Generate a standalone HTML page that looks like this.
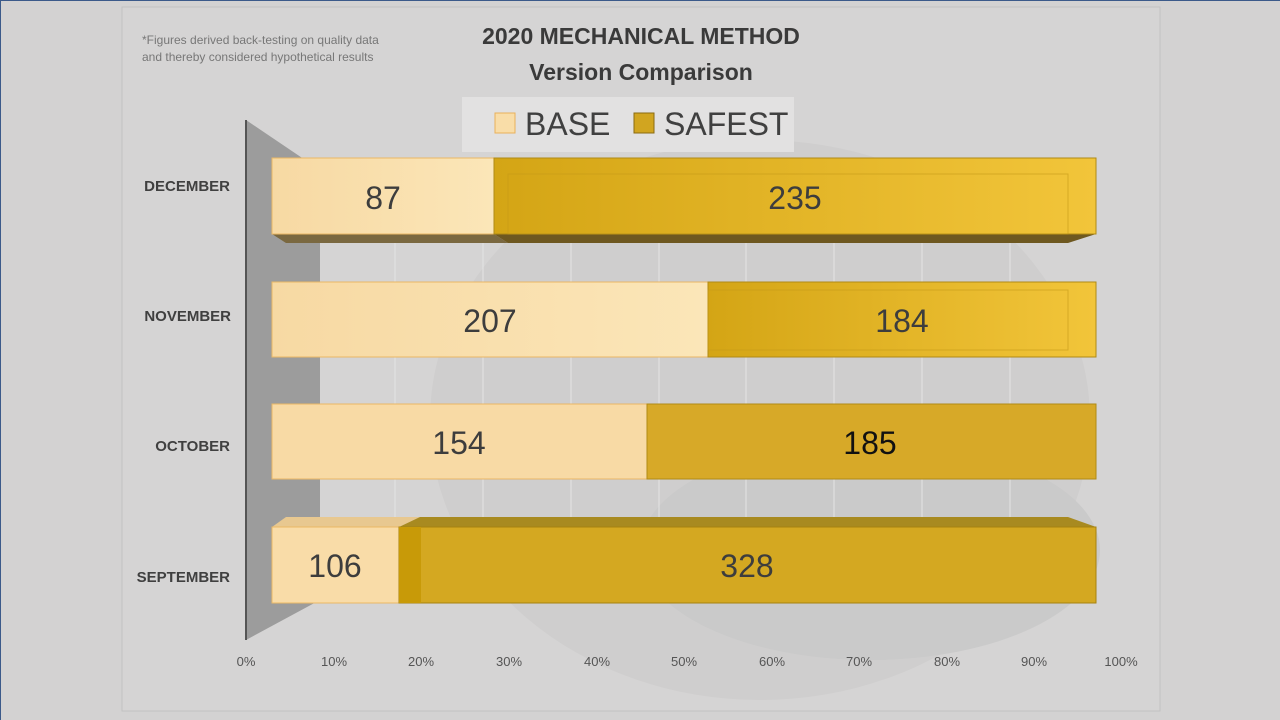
<!DOCTYPE html>
<html><head><style>
html,body{margin:0;padding:0;width:1280px;height:720px;overflow:hidden;background:#d3d2d2;}
svg{display:block;font-family:"Liberation Sans",sans-serif;}
</style></head><body>
<svg width="1280" height="720" viewBox="0 0 1280 720">
<defs>
<linearGradient id="gold" x1="0" x2="1" y1="0" y2="0"><stop offset="0" stop-color="#d4a515"/><stop offset="1" stop-color="#f2c53a"/></linearGradient>
<linearGradient id="base" x1="0" x2="1"><stop offset="0" stop-color="#f7d9a3"/><stop offset="1" stop-color="#fbe6b8"/></linearGradient>
</defs>
<rect width="1280" height="720" fill="#d3d2d2"/>
<line x1="0" y1="0.5" x2="1280" y2="0.5" stroke="#3b5a8a"/>
<line x1="0.5" y1="0" x2="0.5" y2="720" stroke="#3b5a8a"/>
<rect x="122" y="7" width="1038" height="704" fill="#d5d4d4" stroke="#c2c2c2"/>
<!-- faint background shape -->
<ellipse cx="760" cy="420" rx="330" ry="280" fill="#cfcece"/>
<ellipse cx="870" cy="550" rx="230" ry="110" fill="#cacaca"/>
<!-- wall -->
<polygon points="246,120 320,170 320,600 246,640" fill="#9c9c9c"/>
<line x1="246" y1="120" x2="246" y2="640" stroke="#555" stroke-width="2"/>
<g stroke="#e4e4e4" stroke-width="1">
<line x1="395" y1="170" x2="395" y2="600"/><line x1="483" y1="170" x2="483" y2="600"/><line x1="571" y1="170" x2="571" y2="600"/><line x1="659" y1="170" x2="659" y2="600"/><line x1="746" y1="170" x2="746" y2="600"/><line x1="834" y1="170" x2="834" y2="600"/><line x1="922" y1="170" x2="922" y2="600"/><line x1="1010" y1="170" x2="1010" y2="600"/>
</g>
<!-- text -->
<text x="142" y="44" font-size="12" fill="#777">*Figures derived back-testing on quality data</text>
<text x="142" y="61" font-size="12" fill="#777">and thereby considered hypothetical results</text>
<text x="641" y="44" font-size="23" font-weight="bold" fill="#3a3a3a" text-anchor="middle">2020 MECHANICAL METHOD</text>
<text x="641" y="80" font-size="23" font-weight="bold" fill="#3a3a3a" text-anchor="middle">Version Comparison</text>
<rect x="462" y="97" width="332" height="55" fill="#e2e1e1"/>
<rect x="495" y="113" width="20" height="20" fill="#f9dda8" stroke="#e9b15a"/>
<text x="525" y="135" font-size="32" fill="#404040">BASE</text>
<rect x="634" y="113" width="20" height="20" fill="#d1a520" stroke="#8a6a10"/>
<text x="664" y="135" font-size="32" fill="#404040">SAFEST</text>
<!-- labels -->
<g font-size="15" font-weight="bold" fill="#404040" text-anchor="end">
<text x="230" y="191">DECEMBER</text><text x="231" y="321">NOVEMBER</text><text x="230" y="451">OCTOBER</text><text x="230" y="582">SEPTEMBER</text>
</g>
<!-- December -->
<polygon points="272,234 494,234 508,243 286,243" fill="#7a6840"/>
<polygon points="494,234 1096,234 1068,243 508,243" fill="#6e5820"/>
<rect x="272" y="158" width="222" height="76" fill="url(#base)" stroke="#eab765"/>
<rect x="494" y="158" width="602" height="76" fill="url(#gold)" stroke="#b08a15"/>
<rect x="508" y="174" width="560" height="60" fill="none" stroke="#c59a18" opacity=".6"/>
<!-- November -->
<rect x="272" y="282" width="436" height="75" fill="url(#base)" stroke="#eab765"/>
<rect x="708" y="282" width="388" height="75" fill="url(#gold)" stroke="#b08a15"/>
<rect x="708" y="290" width="360" height="60" fill="none" stroke="#c59a18" opacity=".6"/>
<!-- October -->
<rect x="272" y="404" width="375" height="75" fill="#f8daa5" stroke="#eab765"/>
<rect x="647" y="404" width="449" height="75" fill="#d7a928" stroke="#b08a15"/>
<!-- September -->
<polygon points="272,527 286,517 420,517 399,527" fill="#e8c890"/>
<polygon points="399,527 420,517 1068,517 1096,527" fill="#a88a20"/>
<rect x="272" y="527" width="127" height="76" fill="#f9dca8" stroke="#eab765"/>
<rect x="399" y="527" width="697" height="76" fill="#d4a821" stroke="#a6820f"/>
<rect x="399" y="527" width="22" height="76" fill="#c89a08"/>
<!-- values -->
<g font-size="32" fill="#3d3d3d" text-anchor="middle">
<text x="383" y="209">87</text><text x="795" y="209">235</text>
<text x="490" y="332">207</text><text x="902" y="332">184</text>
<text x="459" y="454">154</text><text x="870" y="454" fill="#111">185</text>
<text x="335" y="577">106</text><text x="747" y="577">328</text>
</g>
<g font-size="13" fill="#555" text-anchor="middle">
<text x="246" y="666">0%</text><text x="334" y="666">10%</text><text x="421" y="666">20%</text><text x="509" y="666">30%</text><text x="597" y="666">40%</text><text x="684" y="666">50%</text><text x="772" y="666">60%</text><text x="859" y="666">70%</text><text x="947" y="666">80%</text><text x="1034" y="666">90%</text><text x="1121" y="666">100%</text>
</g>
</svg>
</body></html>
